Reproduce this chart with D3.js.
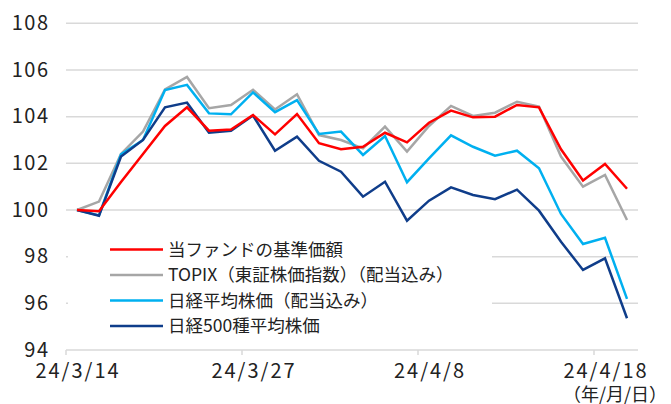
<!DOCTYPE html>
<html>
<head>
<meta charset="utf-8">
<script src="https://cdn.jsdelivr.net/npm/d3@7"></script>
<style>
  body { margin: 0; background: #fff; }
  svg text { font-family: "Noto Sans CJK JP", "Noto Sans", sans-serif; fill: #222; }
</style>
</head>
<body>
<div id="chart"></div>
<script>
// trading days, 24/3/14 .. 24/4/19
const dates = ["24/3/14","24/3/15","24/3/18","24/3/19","24/3/21","24/3/22","24/3/25","24/3/26",
  "24/3/27","24/3/28","24/3/29","24/4/1","24/4/2","24/4/3","24/4/4","24/4/5",
  "24/4/8","24/4/9","24/4/10","24/4/11","24/4/12","24/4/15","24/4/16","24/4/17",
  "24/4/18","24/4/19"];
const tickIdx = [0, 8, 16, 24];
const yTicks = [94, 96, 98, 100, 102, 104, 106, 108];

const fund   = [100, 99.95, 101.2, 102.4, 103.6, 104.4, 103.4, 103.45, 104.07, 103.24, 104.11, 102.86, 102.6,
                102.71, 103.31, 102.9, 103.74, 104.26, 103.97, 104.0, 104.5, 104.4, 102.6, 101.26, 101.97, 100.91];
const topix  = [100, 100.36, 102.4, 103.36, 105.17, 105.7, 104.36, 104.5, 105.15, 104.31, 104.96, 103.21, 103.0,
                102.64, 103.57, 102.5, 103.6, 104.46, 104.03, 104.17, 104.64, 104.43, 102.29, 101.0, 101.5, 99.57];
const nikkei = [100, 99.77, 102.39, 103.0, 105.14, 105.36, 104.14, 104.1, 105.04, 104.19, 104.71, 103.26, 103.36,
                102.36, 103.17, 101.19, 102.21, 103.2, 102.71, 102.33, 102.54, 101.79, 99.83, 98.54, 98.81, 96.19];
const n500   = [100, 99.75, 102.29, 103.0, 104.4, 104.6, 103.31, 103.39, 104.05, 102.54, 103.14, 102.11, 101.64,
                100.57, 101.21, 99.54, 100.4, 100.97, 100.64, 100.46, 100.87, 99.97, 98.64, 97.43, 97.93, 95.36];

const seriesNames = ["当ファンドの基準価額", "TOPIX（東証株価指数）（配当込み）", "日経平均株価（配当込み）", "日経500種平均株価"];
const seriesColors = ["#ff0000", "#a6a6a6", "#00b0f0", "#0f3d8a"];
const seriesData = [fund, topix, nikkei, n500];

const width = 671, height = 404;
const svg = d3.select("#chart").append("svg")
    .attr("width", width)
    .attr("height", height);

const x = d3.scaleBand().domain(d3.range(dates.length)).range([66, 638]).padding(0);
const y = d3.scaleLinear().domain([94, 108]).range([350, 23.3]);
const cx = i => x(i) + x.bandwidth() / 2;

// gridlines
svg.append("g").selectAll("line")
    .data(yTicks.filter(v => v > 94))
    .enter().append("line")
    .attr("x1", 66).attr("x2", 638)
    .attr("y1", d => y(d)).attr("y2", d => y(d))
    .attr("stroke", "#d9d9d9").attr("stroke-width", 1.5);

// y labels
svg.append("g").selectAll("text")
    .data(yTicks)
    .enter().append("text")
    .attr("x", 49.5).attr("y", d => y(d))
    .attr("dy", "0.34em")
    .attr("text-anchor", "end")
    .style("font-size", "20px")
    .style("letter-spacing", "1.5px")
    .text(d => d);

// x axis baseline + ticks
svg.append("line")
    .attr("x1", 66).attr("x2", 638)
    .attr("y1", y(94)).attr("y2", y(94))
    .attr("stroke", "#d9d9d9").attr("stroke-width", 1.5);
svg.append("g").selectAll("line")
    .data(tickIdx)
    .enter().append("line")
    .attr("x1", d => x(d)).attr("x2", d => x(d))
    .attr("y1", y(94)).attr("y2", y(94) + 5)
    .attr("stroke", "#d9d9d9").attr("stroke-width", 1.5);
svg.append("g").selectAll("text")
    .data(tickIdx)
    .enter().append("text")
    .attr("x", d => cx(d) + 1).attr("y", 378)
    .attr("text-anchor", "middle")
    .style("font-size", "20px")
    .style("letter-spacing", "2px")
    .text(d => dates[d]);
svg.append("text")
    .attr("x", 563).attr("y", 401)
    .style("font-size", "18px")
    .text("（年/月/日）");

// legend box hides gridlines behind it
svg.append("rect")
    .attr("x", 68).attr("y", 234).attr("width", 424).attr("height", 106)
    .attr("fill", "#fff");

// lines
const line = d3.line().x((d, i) => cx(i)).y(d => y(d));
const drawOrder = [1, 2, 3, 0];
svg.append("g").selectAll("path")
    .data(drawOrder)
    .enter().append("path")
    .attr("d", k => line(seriesData[k]))
    .attr("fill", "none")
    .attr("stroke", k => seriesColors[k])
    .attr("stroke-width", 2.5)
    .attr("stroke-linejoin", "miter");

// legend
const leg = svg.append("g").selectAll("g")
    .data(seriesNames)
    .enter().append("g")
    .attr("transform", (d, i) => "translate(110," + (249.5 + i * 25.5) + ")");
leg.append("line")
    .attr("x1", 0).attr("x2", 53)
    .attr("stroke", (d, i) => seriesColors[i])
    .attr("stroke-width", 2.5);
leg.append("text")
    .attr("x", 58).attr("dy", "0.36em")
    .style("font-size", "17.5px")
    .text(d => d);
</script>
</body>
</html>
